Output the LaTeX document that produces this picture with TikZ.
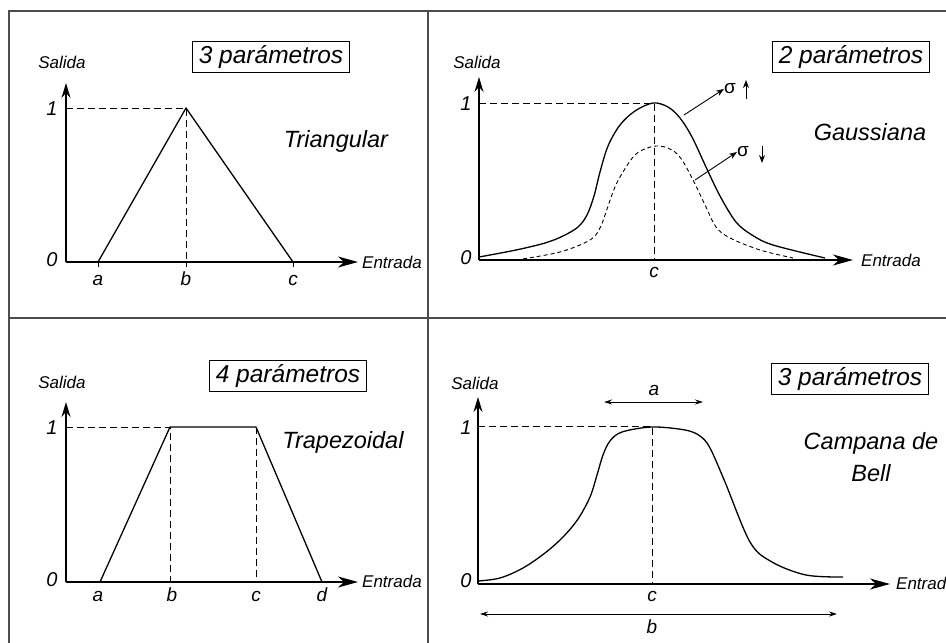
\documentclass[tikz,border=0pt]{standalone}
\usepackage{fontspec}
\setmainfont{Liberation Sans}
\usetikzlibrary{arrows.meta}
\begin{document}
\begin{tikzpicture}[x=1pt,y=-1pt,
  frameline/.style={draw=black!70, line width=1.3pt},
  xaxis/.style={line width=1.4pt, -{Stealth[length=20pt,width=11pt,inset=6pt]}},
  yaxis/.style={line width=1.4pt, -{Stealth[length=15pt,width=9pt,inset=5pt]}},
  curve/.style={line width=1.3pt, line join=round},
  dcurve/.style={line width=0.9pt, dash pattern=on 4pt off 3pt},
  guide/.style={line width=1pt, dash pattern=on 7pt off 4pt},
  thinarrow/.style={line width=0.9pt, -{Stealth[length=8pt,width=6pt]}},
  dimarrow/.style={line width=0.9pt, {Stealth[length=8pt,width=5pt]}-{Stealth[length=8pt,width=5pt]}},
  lab/.style={font=\fontsize{17}{20}\selectfont\itshape, inner sep=0pt},
  num/.style={font=\fontsize{20}{24}\selectfont\itshape, inner sep=0pt},
  par/.style={font=\fontsize{19}{22}\selectfont\itshape, inner sep=0pt},
  ftitle/.style={font=\fontsize{23.5}{28}\selectfont\itshape, inner sep=0pt},
  pbox/.style={draw, line width=0.9pt, font=\fontsize{24.5}{28}\selectfont\itshape, inner xsep=6pt, inner ysep=3.5pt},
  sig/.style={font=\fontsize{19}{22}\selectfont, inner sep=0pt}
]
\useasboundingbox (0,0) rectangle (946,643);
% frame
\draw[frameline] (946,11) -- (9,11) -- (9,643);
\draw[frameline] (428,11) -- (428,643);
\draw[frameline] (9,318) -- (946,318);

% ===== Panel 1: Triangular =====
\coordinate (o1) at (66,262);
\coordinate (y1) at (66,83);
\coordinate (x1) at (358,262);
\coordinate (t1a) at (98,262);
\coordinate (t1b) at (186,108);
\coordinate (t1c) at (293,262);
\coordinate (t1bb) at (186,262);
\coordinate (t1y) at (66,108);
\draw[yaxis] (o1) -- (y1);
\draw[xaxis] (o1) -- (x1);
\draw[guide] (t1y) -- (t1b) -- (t1bb);
\draw[curve] (t1a) -- (t1b) -- (t1c);
\draw[line width=0.8pt] (t1a) -- ++(0,5) (t1bb) -- ++(0,5) (t1c) -- ++(0,5);
\node[lab, anchor=base] (s1) at (62,68) {Salida};
\node[lab, anchor=base west] (e1) at (362,268) {Entrada};
\node[num] (n11) at (52,109) {1};
\node[num] (n10) at (52,260) {0};
\node[par, anchor=base] (la1) at (98,285) {a};
\node[par, anchor=base] (lb1) at (186,285) {b};
\node[par, anchor=base] (lc1) at (293,285) {c};
\node[pbox] (p1) at (271,57) {3 parámetros};
\node[ftitle, anchor=base] (tt1) at (336,147) {Triangular};

% ===== Panel 2: Gaussiana =====
\coordinate (o2) at (479,260);
\coordinate (y2) at (479,77);
\coordinate (x2) at (853,260);
\coordinate (g2y) at (479,103);
\coordinate (g2c) at (654,103);
\coordinate (g2cb) at (654,260);
\draw[yaxis] (o2) -- (y2);
\draw[xaxis] (o2) -- (x2);
\draw[guide] (g2y) -- (g2c) -- (g2cb);
\draw[curve] plot[smooth, tension=0.55] coordinates {(479,257) (516,250) (545,243) (563,236) (578,227) (587,215) (594,196) (600,172) (608,146) (620,125) (635,111) (653,103) (668,107) (680,118) (692,137) (706,167) (720,196) (736,222) (752,235) (773,245) (825,258)};
\draw[dcurve] plot[smooth, tension=0.55] coordinates {(516,260) (560,252) (590,240) (600,228) (606,212) (613,192) (620,177) (636,154) (656,146) (672,150) (682,160) (693,180) (706,207) (716,227) (730,238) (760,250) (793,258)};
\coordinate (sa1) at (684,115);
\coordinate (sa2) at (695,180);
\node[sig, anchor=west] (sg1) at (724,89) {σ};
\node[sig, anchor=west] (sg2) at (737,152) {σ};
\draw[thinarrow] (sa1) -- (sg1.west);
\draw[thinarrow] (sa2) -- (sg2.west);
\coordinate (up1) at (746,99);
\coordinate (up2) at (746,80);
\coordinate (dn1) at (762,146);
\coordinate (dn2) at (762,163);
\draw[thinarrow] (up1) -- (up2);
\draw[thinarrow] (dn1) -- (dn2);
\node[lab, anchor=base] (s2) at (477,68) {Salida};
\node[lab, anchor=base west] (e2) at (861,266) {Entrada};
\node[num] (n21) at (466,104) {1};
\node[num] (n20) at (466,258) {0};
\node[par, anchor=base] (lc2) at (654,277) {c};
\node[pbox] (p2) at (851,57) {2 parámetros};
\node[ftitle, anchor=base] (tt2) at (870,140) {Gaussiana};

% ===== Panel 3: Trapezoidal =====
\coordinate (o3) at (66,582);
\coordinate (y3) at (66,402);
\coordinate (x3) at (358,582);
\coordinate (t3a) at (100,582);
\coordinate (t3b) at (170,427);
\coordinate (t3c) at (256,427);
\coordinate (t3d) at (322,582);
\coordinate (t3bb) at (170,582);
\coordinate (t3cb) at (256,582);
\coordinate (t3y) at (66,427);
\draw[yaxis] (o3) -- (y3);
\draw[xaxis] (o3) -- (x3);
\draw[guide] (t3y) -- (t3b) -- (t3bb);
\draw[guide] (t3c) -- (t3cb);
\draw[curve] (t3a) -- (t3b) -- (t3c) -- (t3d);
\node[lab, anchor=base] (s3) at (62,388) {Salida};
\node[lab, anchor=base west] (e3) at (362,587) {Entrada};
\node[num] (n31) at (52,428) {1};
\node[num] (n30) at (52,580) {0};
\node[par, anchor=base] (la3) at (98,601) {a};
\node[par, anchor=base] (lb3) at (172,601) {b};
\node[par, anchor=base] (lc3) at (256,601) {c};
\node[par, anchor=base] (ld3) at (322,601) {d};
\node[pbox] (p3) at (288,376) {4 parámetros};
\node[ftitle, anchor=base] (tt3) at (343,448) {Trapezoidal};

% ===== Panel 4: Campana de Bell =====
\coordinate (o4) at (478,584);
\coordinate (y4) at (478,397);
\coordinate (x4) at (890,584);
\coordinate (g4y) at (478,426);
\coordinate (g4c) at (652,426);
\coordinate (g4cb) at (652,584);
\draw[yaxis] (o4) -- (y4);
\draw[xaxis] (o4) -- (x4);
\draw[guide] (g4y) -- (g4c) -- (g4cb);
\draw[curve] plot[smooth, tension=0.55] coordinates {(478,581) (500,578) (523,568) (545,553) (563,537) (578,519) (590,497) (597,475) (603,455) (610,441) (622,432) (652,427) (685,430) (700,436) (710,448) (725,482) (750,542) (772,562) (806,575) (843,577)};
\coordinate (aa1) at (604,402);
\coordinate (aa2) at (703,402);
\coordinate (bb1) at (480,614);
\coordinate (bb2) at (837,614);
\draw[dimarrow] (aa1) -- (aa2);
\draw[dimarrow] (bb1) -- (bb2);
\node[lab, anchor=base] (s4) at (475,389) {Salida};
\node[lab, anchor=base west] (e4) at (896,589) {Entrad};
\node[num] (n41) at (466,428) {1};
\node[num] (n40) at (466,581) {0};
\node[par, anchor=base] (la4) at (654,395) {a};
\node[par, anchor=base] (lc4) at (652,601) {c};
\node[par, anchor=base] (lb4) at (652,633) {b};
\node[pbox] (p4) at (850,379) {3 parámetros};
\node[ftitle, anchor=base] (tt4a) at (871,449) {Campana de};
\node[ftitle, anchor=base] (tt4b) at (871,481) {Bell};
\end{tikzpicture}
\end{document}
